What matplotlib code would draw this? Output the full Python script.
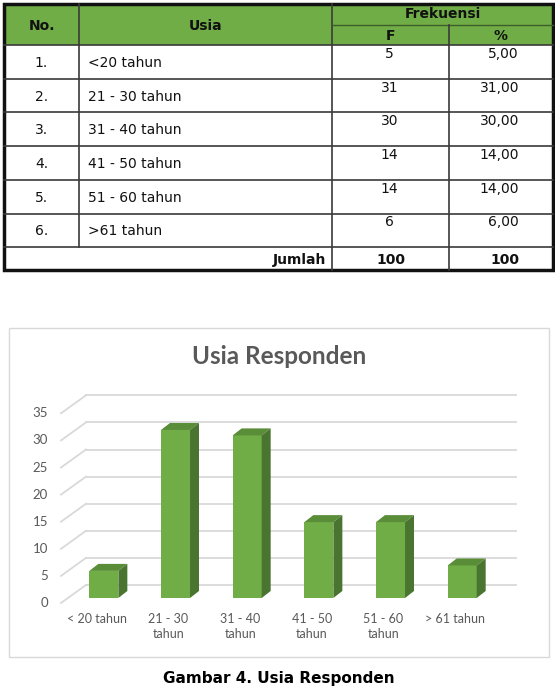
import numpy as np
import matplotlib.pyplot as plt
from matplotlib.patches import Rectangle, Polygon
from matplotlib.transforms import ScaledTranslation

# data
row_no = ['1.', '2.', '3.', '4.', '5.', '6.']
row_usia = ['<20 tahun', '21 - 30 tahun', '31 - 40 tahun',
            '41 - 50 tahun', '51 - 60 tahun', '>61 tahun']
row_f = [5, 31, 30, 14, 14, 6]
row_pct = ['5,00', '31,00', '30,00', '14,00', '14,00', '6,00']
total_f = '100'
total_pct = '100'

categories = ['< 20 tahun', '21 - 30\ntahun', '31 - 40\ntahun',
              '41 - 50\ntahun', '51 - 60\ntahun', '> 61 tahun']
counts = [5, 31, 30, 14, 14, 6]
y_ticks = [0, 5, 10, 15, 20, 25, 30, 35]

W, H = 555, 687
DPI = 100
fig = plt.figure(figsize=(W / DPI, H / DPI), dpi=DPI)

GREEN = '#70ad47'
TOP = '#5a8d38'
SIDE = '#4a7530'
GRID = '#d9d9d9'
TXT = '#595959'

# ---------- table (pixel coords) ----------
tab = fig.add_axes([0, 0, 1, 1])
tab.set_xlim(0, W)
tab.set_ylim(H, 0)
tab.axis('off')

x0, x1, x2, x3, x4 = 4, 79, 332, 449, 553
y_top, y_mid, y_head = 4, 24.5, 45
row_h = 33.7
y_tot = y_head + row_h * len(row_no)
y_bot = 270

tab.add_patch(Rectangle((x0, y_top), x4 - x0, y_head - y_top, color=GREEN, lw=0))
tfont = dict(family='DejaVu Sans', fontsize=10, color='#111111')
line = dict(color='#3a3a3a', lw=1.2)

# header
tab.plot([x1, x1], [y_top, y_tot], **line)
tab.plot([x2, x2], [y_top, y_bot], **line)
tab.plot([x2, x4], [y_mid, y_mid], color='#3d5f27', lw=1)
tab.plot([x3, x3], [y_mid, y_bot], **line)
tab.plot([x0, x4], [y_head, y_head], **line)
tab.text((x0 + x1) / 2, (y_top + y_head) / 2 + 1, 'No.', ha='center', va='center', weight='bold', **tfont)
tab.text((x1 + x2) / 2, (y_top + y_head) / 2 + 1, 'Usia', ha='center', va='center', weight='bold', **tfont)
tab.text((x2 + x4) / 2, (y_top + y_mid) / 2, 'Frekuensi', ha='center', va='center', weight='bold', **tfont)
tab.text((x2 + x3) / 2, (y_mid + y_head) / 2 + 1, 'F', ha='center', va='center', weight='bold', **tfont)
tab.text((x3 + x4) / 2, (y_mid + y_head) / 2 + 1, '%', ha='center', va='center', weight='bold', **tfont)

for i in range(len(row_no)):
    yt = y_head + row_h * i
    yc = yt + row_h / 2
    tab.plot([x0, x4], [yt + row_h, yt + row_h], **line)
    tab.text((x0 + x1) / 2, yc + 1, row_no[i], ha='center', va='center', **tfont)
    tab.text(x1 + 9, yc + 1, row_usia[i], ha='left', va='center', **tfont)
    tab.text((x2 + x3) / 2 - 1, yt + 9, str(row_f[i]), ha='center', va='center', **tfont)
    tab.text(519, yt + 9, row_pct[i], ha='right', va='center', **tfont)

yc = (y_tot + y_bot) / 2
tab.text(x2 - 6, yc + 1, 'Jumlah', ha='right', va='center', weight='bold', **tfont)
tab.text((x2 + x3) / 2, yc + 1, total_f, ha='center', va='center', weight='bold', **tfont)
tab.text(519, yc + 1, total_pct, ha='right', va='center', weight='bold', **tfont)
tab.add_patch(Rectangle((x0, y_top), x4 - x0, y_bot - y_top, fill=False, ec='#111111', lw=2.5))

# chart frame, title, caption
tab.add_patch(Rectangle((9, 328), 540, 329, fill=False, ec=GRID, lw=1))
tab.text(279, 357, 'Usia Responden', ha='center', va='center', family='Lato',
         weight='bold', fontsize=17.5, color=TXT)
tab.text(279, 686, 'Gambar 4. Usia Responden', ha='center', va='bottom',
         family='DejaVu Sans', weight='bold', fontsize=11, color='#000000')

# ---------- chart (front plane in data coords) ----------
front_left, front_right = 61, 491
y0_px, px_per_unit = 603, 5.42
ax = fig.add_axes([front_left / W, (H - y0_px) / H, (front_right - front_left) / W,
                   35 * px_per_unit / H])
ax.set_xlim(-0.5, len(categories) - 0.5)
ax.set_ylim(0, 35)
ax.axis('off')


def shift(dx, dy):
    return ax.transData + ScaledTranslation(dx / DPI, dy / DPI, fig.dpi_scale_trans)


back = shift(25, 18)
xl, xr = -0.5, len(categories) - 0.5
for v in y_ticks:
    ax.plot([xl, xr], [v, v], color=GRID, lw=1.3, transform=back, clip_on=False, zorder=1)
    # diagonal side line from front to back wall
    xs = ax.transData.transform([(xl, v)])[0]
    ax.plot([xs[0], xs[0] + 25], [xs[1], xs[1] + 18], color=GRID, lw=1.3,
            transform=None, clip_on=False, zorder=1)
    ax.text(xl, v, str(v), transform=shift(-13, 0), ha='right', va='center',
            family='Lato', fontsize=9.5, color=TXT)

x = np.arange(len(categories))
bw = 0.405
bar_t = shift(7, 5)
ax.bar(x, counts, width=bw, color=GREEN, transform=bar_t, zorder=3, clip_on=False)

# 3D top and side faces, built from bar corners in display space
dxd, dyd = 9, 7
for xi, v in zip(x, counts):
    br = bar_t.transform([(xi + bw / 2, 0)])[0]
    tl = bar_t.transform([(xi - bw / 2, v)])[0]
    tr = bar_t.transform([(xi + bw / 2, v)])[0]
    top = [tl, tr, tr + [dxd, dyd], tl + [dxd, dyd]]
    side = [br, tr, tr + [dxd, dyd], br + [dxd, dyd]]
    ax.add_patch(Polygon(top, closed=True, color=TOP, transform=None, zorder=3, lw=0))
    ax.add_patch(Polygon(side, closed=True, color=SIDE, transform=None, zorder=3, lw=0))

for xi, lab in zip(x, categories):
    ax.text(xi, 0, lab, transform=shift(0, -10), ha='center', va='top',
            family='Lato', fontsize=9, color=TXT, linespacing=1.25)

plt.savefig('out.png', dpi=DPI)
